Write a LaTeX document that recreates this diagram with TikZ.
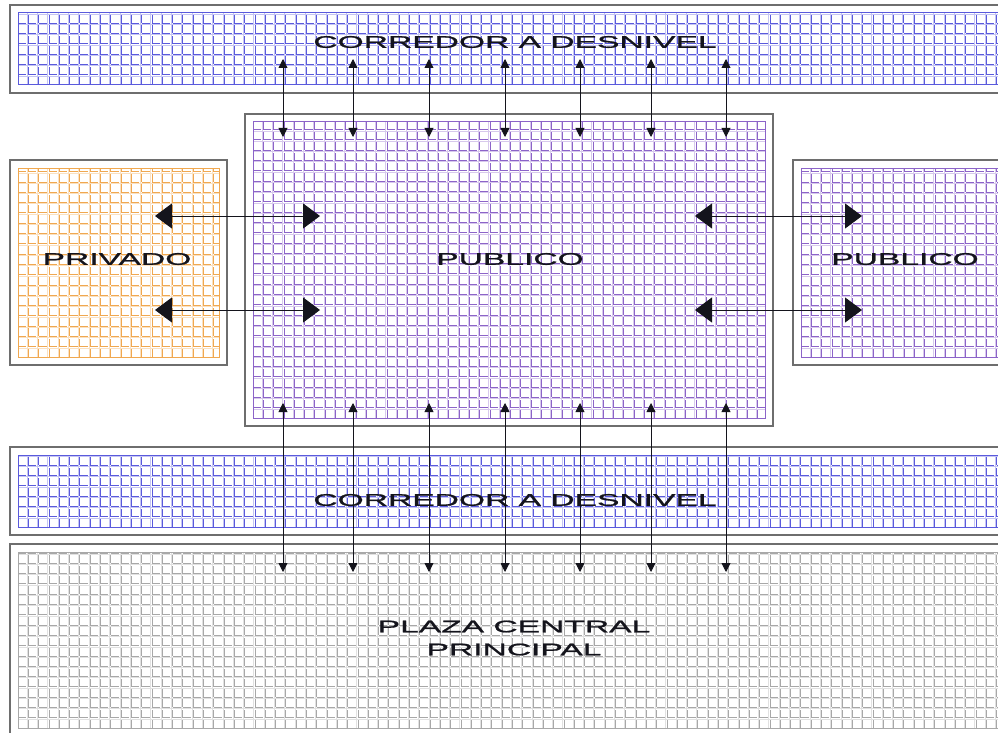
\documentclass[tikz,border=0pt]{standalone}
\usepackage{fontspec}
\usepackage{tikz}
\usetikzlibrary{arrows.meta}
\newfontfamily\planfont[FakeStretch=2.0,FakeBold=1.2]{Liberation Sans}
\definecolor{plblue}{HTML}{5A5ADC}
\definecolor{plviolet}{HTML}{8C64C8}
\definecolor{plamber}{HTML}{F0A850}
\definecolor{plgrey}{HTML}{A8A8A8}
\definecolor{plink}{HTML}{14141C}
\definecolor{plframe}{HTML}{6E6E6E}
\tikzset{
  frm/.style={draw=plframe, line width=1.1pt, fill=white},
  lbl/.style={font=\planfont\fontsize{16.8}{23}\selectfont, text=plink, inner sep=0pt, align=center},
  varr/.style={{Triangle[length=9pt,width=9pt]}-{Triangle[length=9pt,width=9pt]}, line width=0.9pt, color=plink},
  harr/.style={{Triangle[length=17pt,width=25pt]}-{Triangle[length=17pt,width=25pt]}, line width=0.9pt, color=plink},
}
% zone: grey frame, then a grid of L strokes inset by 8
\newcommand{\zone}[5]{%
  \draw[frm] (#1,#2) rectangle (#3,#4);
  \begin{scope}
    \clip (#1+8,#2+8) rectangle (#3-8,#4-8);
    \begin{scope}[shift={(#1+8,#4-8)}]
      \draw[#5!35, line width=0.5pt, xshift=-1.2pt, yshift=-1.2pt, step=10.3pt] (-20,20) grid (#3-#1,#2-#4);
      \draw[#5, line width=0.8pt, dash pattern=on 8pt off 2.3pt, step=10.3pt] (0,0) grid (#3-#1-16,#2-#4+16);
    \end{scope}
  \end{scope}
  \draw[#5, line width=1pt] (#1+8,#2+8) rectangle (#3-8,#4-8);
}

\begin{document}
\begin{tikzpicture}[x=1pt, y=-1pt]
    \clip (0,0) rectangle (998,733);
    \fill[white] (0,0) rectangle (998,733);
    \zone{10}{5}{1010}{93}{plblue}
    \zone{245}{114}{773}{426}{plviolet}
    \zone{10}{160}{227}{365}{plamber}
    \zone{793}{160}{1010}{365}{plviolet}
    \zone{10}{447}{1010}{535}{plblue}
    \zone{10}{544}{1010}{736}{plgrey}
    \node[lbl] (topcor) at (515,42) {CORREDOR A DESNIVEL};
    \node[lbl] (pub) at (510,259) {PUBLICO};
    \node[lbl] (priv) at (117,259) {PRIVADO};
    \node[lbl] (pubr) at (905,259) {PUBLICO};
    \node[lbl] (botcor) at (515,500) {CORREDOR A DESNIVEL};
    \node[lbl] (plaza) at (514,638) {PLAZA CENTRAL\\PRINCIPAL};
    \foreach \ax [count=\i] in {283,353,429,505,580,651,726} {
      \coordinate (ut\i) at (\ax,59);
      \coordinate (ub\i) at (\ax,137);
      \coordinate (lt\i) at (\ax,403);
      \coordinate (lb\i) at (\ax,572);
      \draw[varr] (ut\i) -- (ub\i);
      \draw[varr] (lt\i) -- (lb\i);
    }
    \foreach \ay [count=\j] in {216,310} {
      \coordinate (pl\j) at (155,\ay);
      \coordinate (pr\j) at (320,\ay);
      \coordinate (ql\j) at (695,\ay);
      \coordinate (qr\j) at (862,\ay);
      \draw[harr] (pl\j) -- (pr\j);
      \draw[harr] (ql\j) -- (qr\j);
    }
  \end{tikzpicture}
\end{document}
